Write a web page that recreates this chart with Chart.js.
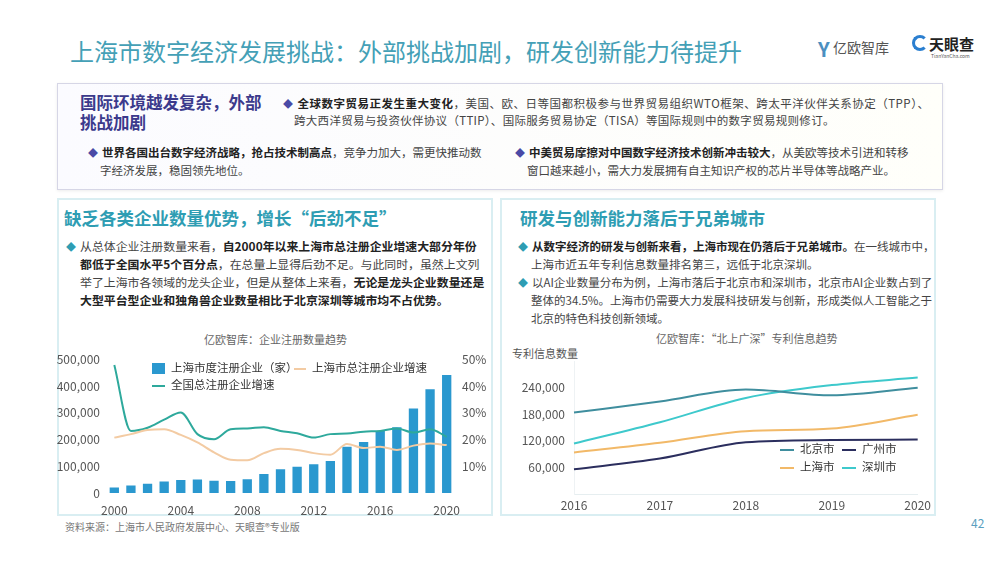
<!DOCTYPE html>
<html>
<head>
<meta charset="utf-8">
<script src="https://cdn.jsdelivr.net/npm/chart.js@4/dist/chart.umd.min.js"></script>
<style>
  body { margin: 0; background: #fff; font-family: "Noto Sans CJK SC", "Noto Sans", sans-serif; }
  #page { position: relative; width: 1000px; height: 563px; overflow: hidden; background: #fff; }
  .abs { position: absolute; white-space: nowrap; }
  .title { left: 70px; top: 33px; font-size: 24px; color: #44a0b6; }
  .box { position: absolute; box-sizing: border-box; }
  .topbox { left: 57px; top: 83px; width: 886px; height: 107px; border: 1.5px solid #d6d6e6; background: linear-gradient(to right, #fbfbff, #fffffa); box-shadow: 0 1px 3px rgba(0,0,0,0.08); }
  .cbox { top: 198px; width: 436px; height: 318px; border: 2px solid #d9eef2; background: #fff; }
  .h1 { font-size: 16.5px; font-weight: bold; color: #3b3a8c; line-height: 20px; }
  .h2 { font-size: 17.5px; font-weight: bold; color: #2e9db3; }
  .t { font-size: 11.5px; color: #444; line-height: 18px; }
  .t b { color: #222; }
  .tl { font-size: 11.9px; }
  .d1 { color: #4a4aa6; font-size: 10px; margin-right: 4px; }
  .d2 { color: #2e9db3; font-size: 10px; margin-right: 4px; }
  .ctitle { font-size: 11px; color: #666; }
  .leg { font-size: 11.5px; color: #333; }
  .sw { display: inline-block; vertical-align: middle; margin-right: 6px; }
</style>
</head>
<body>
<div id="page">
  <div class="abs title">上海市数字经济发展挑战：外部挑战加剧，研发创新能力待提升</div>

  <!-- logos -->
  <div class="abs" style="left:818px;top:34px;font-size:20px;font-weight:bold;color:#4b8fc0;">Y</div>
  <div class="abs" style="left:833px;top:37px;font-size:14px;color:#555;">亿欧智库</div>
  <div class="abs" style="left:912px;top:35px;width:16px;height:16px;border-radius:50%;border:3px solid #2b7fd0;border-right-color:transparent;box-sizing:border-box;"></div>
  <div class="abs" style="left:929px;top:33px;font-size:15px;font-weight:bold;color:#222;">天眼查</div>
  <div class="abs" style="left:931px;top:52px;font-size:5px;color:#555;">TianYanCha.com</div>

  <!-- top box -->
  <div class="box topbox"></div>
  <div class="abs h1" style="left:80px;top:92px;">国际环境越发复杂，外部<br>挑战加剧</div>
  <div class="abs t" style="left:283px;top:94px;letter-spacing:0.5px;"><span class="d1">◆</span><b>全球数字贸易正发生重大变化</b>，美国、欧、日等国都积极参与世界贸易组织WTO框架、跨太平洋伙伴关系协定（TPP）、</div>
  <div class="abs t" style="left:294px;top:111px;letter-spacing:0.3px;">跨大西洋贸易与投资伙伴协议（TTIP）、国际服务贸易协定（TISA）等国际规则中的数字贸易规则修订。</div>
  <div class="abs t" style="left:88px;top:143px;"><span class="d1">◆</span><b>世界各国出台数字经济战略，抢占技术制高点</b>，竞争力加大，需更快推动数</div>
  <div class="abs t" style="left:100px;top:161px;">字经济发展，稳固领先地位。</div>
  <div class="abs t" style="left:515px;top:143px;"><span class="d1">◆</span><b>中美贸易摩擦对中国数字经济技术创新冲击较大</b>，从美欧等技术引进和转移</div>
  <div class="abs t" style="left:527px;top:161px;">窗口越来越小，需大力发展拥有自主知识产权的芯片半导体等战略产业。</div>

  <!-- left box -->
  <div class="box cbox" style="left:57px;"></div>
  <div class="abs h2" style="left:64px;top:205px;">缺乏各类企业数量优势，增长“后劲不足”</div>
  <div class="abs t tl" style="left:66px;top:237px;"><span class="d2">◆</span>从总体企业注册数量来看，<b>自2000年以来上海市总注册企业增速大部分年份</b></div>
  <div class="abs t tl" style="left:80px;top:255px;"><b>都低于全国水平5个百分点</b>，在总量上显得后劲不足。与此同时，虽然上文列</div>
  <div class="abs t tl" style="left:80px;top:273px;">举了上海市各领域的龙头企业，但是从整体上来看，<b>无论是龙头企业数量还是</b></div>
  <div class="abs t tl" style="left:80px;top:291px;"><b>大型平台型企业和独角兽企业数量相比于北京深圳等城市均不占优势。</b></div>
  <div class="abs ctitle" style="left:204px;top:331px;">亿欧智库：企业注册数量趋势</div>
  <canvas id="regChart" class="abs" style="left:57px;top:345px;" width="435" height="170"></canvas>
  <div class="abs leg" style="left:152px;top:359px;"><span class="sw" style="width:13px;height:11px;background:#2a98cf;"></span>上海市度注册企业（家）</div>
  <div class="abs leg" style="left:294px;top:359px;"><span class="sw" style="width:12px;height:2px;background:#f3cba3;"></span>上海市总注册企业增速</div>
  <div class="abs leg" style="left:152px;top:376px;"><span class="sw" style="width:13px;height:2px;background:#2ea99c;"></span>全国总注册企业增速</div>

  <!-- right box -->
  <div class="box cbox" style="left:500px;"></div>
  <div class="abs h2" style="left:520px;top:205px;">研发与创新能力落后于兄弟城市</div>
  <div class="abs t" style="left:518px;top:237px;"><span class="d2">◆</span><b>从数字经济的研发与创新来看，上海市现在仍落后于兄弟城市。</b>在一线城市中，</div>
  <div class="abs t" style="left:531px;top:255px;">上海市近五年专利信息数量排名第三，远低于北京深圳。</div>
  <div class="abs t" style="left:518px;top:273px;"><span class="d2">◆</span>以AI企业数量分布为例，上海市落后于北京市和深圳市，北京市AI企业数占到了</div>
  <div class="abs t" style="left:531px;top:291px;">整体的34.5%。上海市仍需要大力发展科技研发与创新，形成类似人工智能之于</div>
  <div class="abs t" style="left:531px;top:309px;">北京的特色科技创新领域。</div>
  <div class="abs ctitle" style="left:656px;top:330px;">亿欧智库：“北上广深”专利信息趋势</div>
  <div class="abs ctitle" style="left:512px;top:345px;color:#555;">专利信息数量</div>
  <canvas id="patentChart" class="abs" style="left:500px;top:345px;" width="435" height="170"></canvas>
  <div class="abs leg" style="left:780px;top:440px;"><span class="sw" style="width:14px;height:2px;background:#3f8e9e;"></span>北京市</div>
  <div class="abs leg" style="left:842px;top:440px;"><span class="sw" style="width:14px;height:2px;background:#2b2e5e;"></span>广州市</div>
  <div class="abs leg" style="left:780px;top:458px;"><span class="sw" style="width:14px;height:2px;background:#f2b968;"></span>上海市</div>
  <div class="abs leg" style="left:842px;top:458px;"><span class="sw" style="width:14px;height:2px;background:#3ec9cc;"></span>深圳市</div>

  <div class="abs" style="left:65px;top:519px;font-size:10px;color:#777;">资料来源：上海市人民政府发展中心、天眼查®专业版</div>
  <div class="abs" style="left:971px;top:514px;font-size:12px;color:#5a9fc0;">42</div>
</div>

<script>
// 企业注册数量趋势
const years = ['2000','2001','2002','2003','2004','2005','2006','2007','2008','2009','2010',
  '2011','2012','2013','2014','2015','2016','2017','2018','2019','2020'];
const shRegCount = [21000, 28000, 35000, 43000, 49000, 50000, 46000, 45000, 51000, 71000, 89000,
  98000, 107000, 120000, 173000, 191000, 232000, 246000, 316000, 388000, 441000];
const shGrowth = [20.7, 22.0, 23.5, 23.8, 21.7, 18.9, 15.2, 12.4, 12.2, 14.9, 16.5,
  16.1, 14.9, 14.3, 18.3, 16.8, 17.3, 16.1, 17.7, 18.5, 17.9];
const cnGrowth = [47.8, 23.2, 24.4, 27.4, 30.1, 22.0, 20.1, 23.8, 24.1, 24.6, 23.2,
  22.3, 20.7, 22.0, 22.2, 22.9, 23.2, 24.1, 22.6, 23.8, 21.0];

// 北上广深专利信息趋势
const patentYears = ['2016','2017','2018','2019','2020'];
const beijing = [184000, 209000, 236000, 223000, 240000];
const guangzhou = [56000, 80000, 117000, 122000, 123000];
const shanghai = [94000, 116000, 142000, 148000, 179000];
const shenzhen = [114000, 162000, 217000, 246000, 263000];

const tickFont = { family: 'Noto Sans CJK SC', size: 12 };
const tickColor = '#555';

function ChartRegister(){
  const data = {
    labels: years,
    datasets: [
      {
        type: 'line', label: '上海市总注册企业增速', data: shGrowth, yAxisID: 'y1',
        borderColor: '#f3cba3', borderWidth: 2, pointRadius: 0,
        cubicInterpolationMode: 'monotone', order: 0,
      },
      {
        type: 'line', label: '全国总注册企业增速', data: cnGrowth, yAxisID: 'y1',
        borderColor: '#2ea99c', borderWidth: 2, pointRadius: 0,
        cubicInterpolationMode: 'monotone', order: 0,
      },
      {
        type: 'bar', label: '上海市度注册企业（家）', data: shRegCount, yAxisID: 'y',
        backgroundColor: '#2a98cf', barPercentage: 0.56, categoryPercentage: 1, order: 1,
      },
    ]
  };

  const config = {
    data,
    options: {
      responsive: false,
      animation: false,
      layout: { padding: { top: 11 } },
      plugins: { legend: { display: false }, tooltip: { enabled: false } },
      scales: {
        x: {
          grid: { display: false }, border: { display: false },
          ticks: {
            autoSkip: false, maxRotation: 0, color: tickColor, font: tickFont, padding: 2,
            callback: (v, i) => (i % 4 === 0 ? years[i] : ''),
          },
          afterFit: (s) => { s.height = 22; },
        },
        y: {
          position: 'left', min: 0, max: 500000,
          grid: { display: false, drawTicks: false }, border: { display: false },
          ticks: { stepSize: 100000, color: tickColor, font: tickFont, padding: 6,
            callback: (v) => v.toLocaleString('en-US') },
          afterFit: (s) => { s.width = 49; },
        },
        y1: {
          position: 'right', min: 0, max: 50,
          grid: { display: false, drawTicks: false }, border: { display: false },
          ticks: { stepSize: 10, color: tickColor, font: tickFont, padding: 7,
            callback: (v) => (v === 0 ? '' : v + '%') },
          afterFit: (s) => { s.width = 37; },
        },
      },
    },
  };

  new Chart(document.getElementById('regChart'), config);
}

function ChartPatent(){
  const line = (label, values, color) => ({
    label, data: values, borderColor: color, borderWidth: 2, pointRadius: 0,
    cubicInterpolationMode: 'monotone', fill: false,
  });

  const config = {
    type: 'line',
    data: {
      labels: patentYears,
      datasets: [
        line('北京市', beijing, '#3f8e9e'),
        line('广州市', guangzhou, '#2b2e5e'),
        line('上海市', shanghai, '#f2b968'),
        line('深圳市', shenzhen, '#3ec9cc'),
      ]
    },
    options: {
      responsive: false,
      animation: false,
      layout: { padding: { top: 11, right: 17 } },
      plugins: { legend: { display: false }, tooltip: { enabled: false } },
      scales: {
        x: {
          grid: { display: false, drawTicks: false },
          border: { display: true, color: '#e6eef0' },
          ticks: { color: tickColor, font: tickFont, padding: 4, maxRotation: 0 },
          afterFit: (s) => { s.height = 21; },
        },
        y: {
          min: 0, max: 300000,
          grid: { display: false, drawTicks: false },
          border: { display: true, color: '#eef2f4' },
          ticks: { stepSize: 60000, color: tickColor, font: tickFont, padding: 9,
            callback: (v) => (v === 0 || v === 300000 ? '' : v.toLocaleString('en-US')) },
          afterFit: (s) => { s.width = 74; },
        },
      },
    },
  };

  new Chart(document.getElementById('patentChart'), config);
}

ChartRegister();
ChartPatent();
</script>
</body>
</html>
